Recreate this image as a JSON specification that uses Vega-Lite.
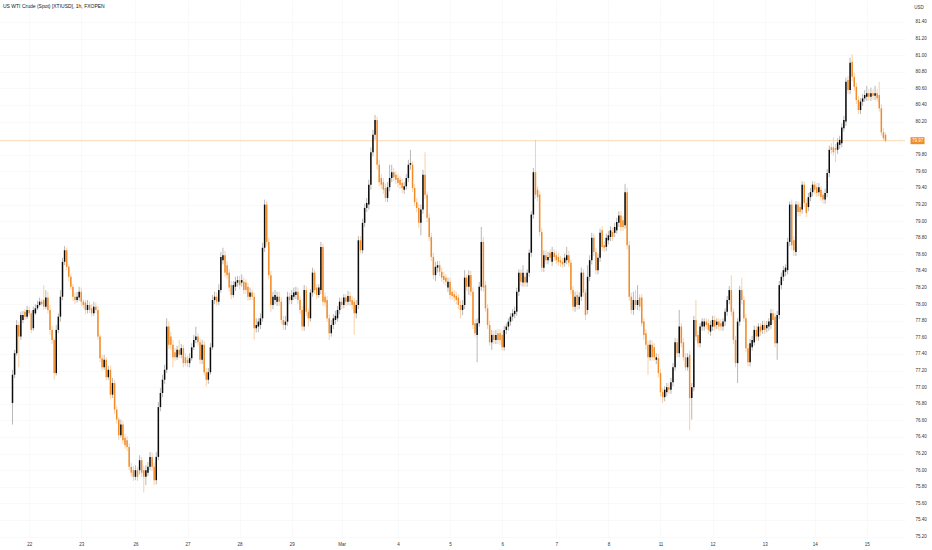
{
"$schema":"https://vega.github.io/schema/vega-lite/v6.json",
"width":905,"height":538,
"autosize":{"type":"none"},
"padding":{"left":0,"top":0,"right":27,"bottom":12},
"background":"#ffffff",
"config":{"view":{"stroke":null},"font":"Liberation Sans"},
"title":{"text":"US WTI Crude (Spot) [XTIUSD], 1h, FXOPEN","anchor":"start","frame":"group","fontSize":5,"fontWeight":"normal","color":"#131722","offset":-9,"dx":3},
"datasets":{"candles":[
{"i":0,"o":76.81,"h":77.21,"l":76.55,"c":77.15},{"i":1,"o":77.15,"h":77.45,"l":77.11,"c":77.41},{"i":2,"o":77.41,"h":77.81,"l":77.38,"c":77.75},{"i":3,"o":77.75,"h":77.79,"l":77.24,"c":77.61},{"i":4,"o":77.61,"h":77.91,"l":77.57,"c":77.87},{"i":5,"o":77.81,"h":77.92,"l":77.77,"c":77.87},{"i":6,"o":77.91,"h":77.94,"l":77.81,"c":77.85},{"i":7,"o":77.85,"h":77.98,"l":77.82,"c":77.93},{"i":8,"o":77.93,"h":77.97,"l":77.86,"c":77.89},{"i":9,"o":77.89,"h":77.92,"l":77.65,"c":77.69},
{"i":10,"o":77.71,"h":77.97,"l":77.68,"c":77.93},{"i":11,"o":77.89,"h":78.00,"l":77.87,"c":77.95},{"i":12,"o":77.95,"h":78.04,"l":77.93,"c":77.99},{"i":13,"o":77.99,"h":78.08,"l":77.97,"c":78.03},{"i":14,"o":78.03,"h":78.06,"l":77.98,"c":78.00},{"i":15,"o":78.05,"h":78.23,"l":77.93,"c":77.97},{"i":16,"o":77.97,"h":78.17,"l":77.94,"c":78.08},{"i":17,"o":78.08,"h":78.15,"l":77.89,"c":77.93},{"i":18,"o":77.93,"h":77.99,"l":77.63,"c":77.69},{"i":19,"o":77.69,"h":77.74,"l":77.52,"c":77.57},
{"i":20,"o":77.57,"h":77.59,"l":77.09,"c":77.17},{"i":21,"o":77.17,"h":77.75,"l":77.14,"c":77.69},{"i":22,"o":77.69,"h":77.89,"l":77.65,"c":77.85},{"i":23,"o":77.85,"h":78.17,"l":77.79,"c":78.09},{"i":24,"o":78.09,"h":78.56,"l":78.05,"c":78.51},{"i":25,"o":78.51,"h":78.70,"l":78.47,"c":78.65},{"i":26,"o":78.65,"h":78.68,"l":78.41,"c":78.45},{"i":27,"o":78.45,"h":78.48,"l":78.28,"c":78.33},{"i":28,"o":78.33,"h":78.36,"l":78.17,"c":78.21},{"i":29,"o":78.21,"h":78.24,"l":78.04,"c":78.09},
{"i":30,"o":78.09,"h":78.14,"l":78.00,"c":78.05},{"i":31,"o":78.05,"h":78.15,"l":78.02,"c":78.09},{"i":32,"o":78.08,"h":78.21,"l":78.04,"c":78.15},{"i":33,"o":78.15,"h":78.20,"l":77.98,"c":78.03},{"i":34,"o":78.03,"h":78.06,"l":77.95,"c":77.99},{"i":35,"o":78.02,"h":78.05,"l":77.88,"c":77.93},{"i":36,"o":77.93,"h":78.05,"l":77.89,"c":77.99},{"i":37,"o":77.99,"h":78.03,"l":77.89,"c":77.93},{"i":38,"o":77.95,"h":78.00,"l":77.85,"c":77.89},{"i":39,"o":77.89,"h":78.03,"l":77.86,"c":77.97},
{"i":40,"o":77.97,"h":78.02,"l":77.89,"c":77.93},{"i":41,"o":77.93,"h":77.98,"l":77.57,"c":77.61},{"i":42,"o":77.61,"h":77.64,"l":77.30,"c":77.35},{"i":43,"o":77.35,"h":77.39,"l":77.20,"c":77.24},{"i":44,"o":77.24,"h":77.39,"l":77.21,"c":77.33},{"i":45,"o":77.33,"h":77.36,"l":77.08,"c":77.12},{"i":46,"o":77.12,"h":77.26,"l":77.09,"c":77.21},{"i":47,"o":77.21,"h":77.26,"l":76.86,"c":76.91},{"i":48,"o":76.91,"h":77.11,"l":76.87,"c":77.05},{"i":49,"o":77.05,"h":77.09,"l":76.68,"c":76.73},
{"i":50,"o":76.73,"h":76.77,"l":76.56,"c":76.61},{"i":51,"o":76.61,"h":76.64,"l":76.36,"c":76.42},{"i":52,"o":76.42,"h":76.61,"l":76.39,"c":76.55},{"i":53,"o":76.55,"h":76.59,"l":76.32,"c":76.36},{"i":54,"o":76.39,"h":76.44,"l":76.26,"c":76.30},{"i":55,"o":76.36,"h":76.41,"l":76.23,"c":76.28},{"i":56,"o":76.28,"h":76.32,"l":76.00,"c":76.04},{"i":57,"o":76.04,"h":76.09,"l":75.92,"c":75.97},{"i":58,"o":76.00,"h":76.05,"l":75.87,"c":75.92},{"i":59,"o":75.92,"h":76.06,"l":75.88,"c":76.00},
{"i":60,"o":76.00,"h":76.04,"l":75.87,"c":75.92},{"i":61,"o":76.00,"h":76.18,"l":75.95,"c":76.12},{"i":62,"o":76.12,"h":76.16,"l":75.92,"c":75.97},{"i":63,"o":76.00,"h":76.05,"l":75.73,"c":75.92},{"i":64,"o":75.92,"h":76.06,"l":75.82,"c":76.00},{"i":65,"o":75.97,"h":76.10,"l":75.93,"c":76.04},{"i":66,"o":76.04,"h":76.22,"l":76.00,"c":76.16},{"i":67,"o":76.16,"h":76.21,"l":75.99,"c":76.04},{"i":68,"o":76.04,"h":76.09,"l":75.82,"c":75.88},{"i":69,"o":75.88,"h":76.22,"l":75.83,"c":76.16},
{"i":70,"o":76.16,"h":76.82,"l":76.12,"c":76.76},{"i":71,"o":76.76,"h":76.99,"l":76.71,"c":76.93},{"i":72,"o":76.93,"h":77.15,"l":76.88,"c":77.09},{"i":73,"o":77.09,"h":77.27,"l":77.04,"c":77.21},{"i":74,"o":77.21,"h":77.83,"l":77.17,"c":77.73},{"i":75,"o":77.73,"h":77.79,"l":77.46,"c":77.51},{"i":76,"o":77.61,"h":77.67,"l":77.45,"c":77.51},{"i":77,"o":77.51,"h":77.57,"l":77.24,"c":77.36},{"i":78,"o":77.42,"h":77.47,"l":77.32,"c":77.36},{"i":79,"o":77.36,"h":77.50,"l":77.33,"c":77.45},
{"i":80,"o":77.45,"h":77.57,"l":77.35,"c":77.39},{"i":81,"o":77.39,"h":77.52,"l":77.35,"c":77.47},{"i":82,"o":77.47,"h":77.51,"l":77.24,"c":77.29},{"i":83,"o":77.36,"h":77.41,"l":77.26,"c":77.29},{"i":84,"o":77.33,"h":77.38,"l":77.24,"c":77.29},{"i":85,"o":77.29,"h":77.41,"l":77.24,"c":77.35},{"i":86,"o":77.35,"h":77.53,"l":77.32,"c":77.48},{"i":87,"o":77.48,"h":77.63,"l":77.45,"c":77.57},{"i":88,"o":77.57,"h":77.73,"l":77.53,"c":77.61},{"i":89,"o":77.61,"h":77.65,"l":77.50,"c":77.54},
{"i":90,"o":77.54,"h":77.59,"l":77.28,"c":77.33},{"i":91,"o":77.33,"h":77.57,"l":77.28,"c":77.51},{"i":92,"o":77.51,"h":77.56,"l":77.14,"c":77.18},{"i":93,"o":77.18,"h":77.23,"l":77.01,"c":77.09},{"i":94,"o":77.09,"h":77.23,"l":77.04,"c":77.18},{"i":95,"o":77.18,"h":77.53,"l":77.15,"c":77.48},{"i":96,"o":77.48,"h":78.11,"l":77.45,"c":78.05},{"i":97,"o":78.05,"h":78.15,"l":78.00,"c":78.09},{"i":98,"o":78.09,"h":78.14,"l":77.98,"c":78.03},{"i":99,"o":78.03,"h":78.24,"l":77.99,"c":78.17},
{"i":100,"o":78.17,"h":78.63,"l":78.14,"c":78.57},{"i":101,"o":78.53,"h":78.68,"l":78.48,"c":78.59},{"i":102,"o":78.59,"h":78.64,"l":78.33,"c":78.38},{"i":103,"o":78.47,"h":78.52,"l":78.30,"c":78.35},{"i":104,"o":78.38,"h":78.42,"l":78.15,"c":78.20},{"i":105,"o":78.23,"h":78.28,"l":78.06,"c":78.11},{"i":106,"o":78.11,"h":78.28,"l":78.08,"c":78.23},{"i":107,"o":78.21,"h":78.33,"l":78.16,"c":78.27},{"i":108,"o":78.26,"h":78.34,"l":78.21,"c":78.29},{"i":109,"o":78.29,"h":78.34,"l":78.18,"c":78.23},
{"i":110,"o":78.26,"h":78.36,"l":78.21,"c":78.29},{"i":111,"o":78.27,"h":78.32,"l":78.12,"c":78.17},{"i":112,"o":78.26,"h":78.30,"l":78.12,"c":78.17},{"i":113,"o":78.21,"h":78.26,"l":78.04,"c":78.09},{"i":114,"o":78.09,"h":78.20,"l":78.05,"c":78.14},{"i":115,"o":78.14,"h":78.18,"l":78.05,"c":78.09},{"i":116,"o":78.09,"h":78.14,"l":77.57,"c":77.71},{"i":117,"o":77.71,"h":77.83,"l":77.66,"c":77.75},{"i":118,"o":77.73,"h":77.83,"l":77.66,"c":77.79},{"i":119,"o":77.75,"h":77.89,"l":77.70,"c":77.83},
{"i":120,"o":77.83,"h":78.74,"l":77.79,"c":78.68},{"i":121,"o":78.68,"h":79.26,"l":78.63,"c":79.20},{"i":122,"o":79.20,"h":79.24,"l":78.70,"c":78.75},{"i":123,"o":78.75,"h":78.80,"l":78.30,"c":78.35},{"i":124,"o":78.35,"h":78.40,"l":77.91,"c":77.99},{"i":125,"o":77.99,"h":78.15,"l":77.94,"c":78.09},{"i":126,"o":78.05,"h":78.17,"l":78.00,"c":78.11},{"i":127,"o":78.03,"h":78.15,"l":77.98,"c":78.09},{"i":128,"o":78.09,"h":78.15,"l":77.98,"c":78.03},{"i":129,"o":78.03,"h":78.08,"l":77.76,"c":77.81},
{"i":130,"o":77.81,"h":77.86,"l":77.69,"c":77.75},{"i":131,"o":77.75,"h":77.86,"l":77.69,"c":77.79},{"i":132,"o":77.79,"h":78.15,"l":77.74,"c":78.09},{"i":133,"o":78.09,"h":78.14,"l":78.00,"c":78.05},{"i":134,"o":78.05,"h":78.17,"l":78.00,"c":78.11},{"i":135,"o":78.09,"h":78.20,"l":78.05,"c":78.14},{"i":136,"o":78.11,"h":78.21,"l":78.06,"c":78.15},{"i":137,"o":78.15,"h":78.20,"l":78.00,"c":78.05},{"i":138,"o":78.05,"h":78.10,"l":77.88,"c":77.93},{"i":139,"o":77.93,"h":77.98,"l":77.68,"c":77.73},
{"i":140,"o":77.73,"h":78.23,"l":77.68,"c":78.17},{"i":141,"o":78.17,"h":78.22,"l":77.86,"c":77.91},{"i":142,"o":77.91,"h":77.95,"l":77.73,"c":77.83},{"i":143,"o":77.83,"h":78.18,"l":77.79,"c":78.14},{"i":144,"o":78.14,"h":78.44,"l":78.09,"c":78.38},{"i":145,"o":78.38,"h":78.42,"l":78.12,"c":78.17},{"i":146,"o":78.20,"h":78.24,"l":78.06,"c":78.11},{"i":147,"o":78.11,"h":78.24,"l":78.08,"c":78.20},{"i":148,"o":78.17,"h":78.75,"l":78.12,"c":78.69},{"i":149,"o":78.69,"h":78.73,"l":77.98,"c":78.03},
{"i":150,"o":78.09,"h":78.14,"l":77.97,"c":78.02},{"i":151,"o":78.05,"h":78.10,"l":77.79,"c":77.83},{"i":152,"o":77.83,"h":77.88,"l":77.57,"c":77.65},{"i":153,"o":77.65,"h":77.81,"l":77.61,"c":77.75},{"i":154,"o":77.75,"h":77.88,"l":77.70,"c":77.83},{"i":155,"o":77.81,"h":77.92,"l":77.76,"c":77.86},{"i":156,"o":77.83,"h":77.98,"l":77.79,"c":77.93},{"i":157,"o":77.93,"h":78.08,"l":77.88,"c":78.03},{"i":158,"o":78.03,"h":78.08,"l":77.94,"c":77.99},{"i":159,"o":77.99,"h":78.12,"l":77.95,"c":78.08},
{"i":160,"o":78.08,"h":78.12,"l":77.98,"c":78.03},{"i":161,"o":78.03,"h":78.16,"l":77.99,"c":78.10},{"i":162,"o":78.10,"h":78.15,"l":77.98,"c":78.03},{"i":163,"o":78.05,"h":78.10,"l":77.94,"c":77.99},{"i":164,"o":78.03,"h":78.08,"l":77.63,"c":77.89},{"i":165,"o":77.89,"h":78.05,"l":77.83,"c":77.99},{"i":166,"o":77.99,"h":78.82,"l":77.94,"c":78.77},{"i":167,"o":78.77,"h":78.82,"l":78.61,"c":78.65},{"i":168,"o":78.65,"h":79.03,"l":78.61,"c":78.98},{"i":169,"o":78.98,"h":79.21,"l":78.93,"c":79.16},
{"i":170,"o":79.16,"h":79.28,"l":79.11,"c":79.22},{"i":171,"o":79.20,"h":79.50,"l":79.14,"c":79.44},{"i":172,"o":79.44,"h":79.89,"l":79.38,"c":79.83},{"i":173,"o":79.83,"h":80.10,"l":79.78,"c":80.04},{"i":174,"o":80.04,"h":80.28,"l":79.98,"c":80.22},{"i":175,"o":80.22,"h":80.26,"l":79.62,"c":79.68},{"i":176,"o":79.68,"h":79.74,"l":79.42,"c":79.47},{"i":177,"o":79.52,"h":79.57,"l":79.39,"c":79.44},{"i":178,"o":79.47,"h":79.52,"l":79.33,"c":79.38},{"i":179,"o":79.40,"h":79.45,"l":79.23,"c":79.28},
{"i":180,"o":79.28,"h":79.47,"l":79.23,"c":79.41},{"i":181,"o":79.41,"h":79.68,"l":79.36,"c":79.52},{"i":182,"o":79.52,"h":79.68,"l":79.47,"c":79.59},{"i":183,"o":79.59,"h":79.64,"l":79.48,"c":79.53},{"i":184,"o":79.56,"h":79.60,"l":79.45,"c":79.50},{"i":185,"o":79.52,"h":79.57,"l":79.41,"c":79.46},{"i":186,"o":79.50,"h":79.54,"l":79.39,"c":79.44},{"i":187,"o":79.46,"h":79.51,"l":79.34,"c":79.40},{"i":188,"o":79.38,"h":79.47,"l":79.33,"c":79.42},{"i":189,"o":79.42,"h":79.57,"l":79.38,"c":79.52},
{"i":190,"o":79.52,"h":79.74,"l":79.47,"c":79.68},{"i":191,"o":79.68,"h":79.86,"l":79.62,"c":79.70},{"i":192,"o":79.68,"h":79.72,"l":79.35,"c":79.40},{"i":193,"o":79.40,"h":79.45,"l":79.18,"c":79.23},{"i":194,"o":79.23,"h":79.28,"l":79.11,"c":79.16},{"i":195,"o":79.16,"h":79.21,"l":78.92,"c":78.98},{"i":196,"o":78.98,"h":79.20,"l":78.83,"c":79.14},{"i":197,"o":79.14,"h":79.62,"l":79.09,"c":79.56},{"i":198,"o":79.56,"h":79.83,"l":79.27,"c":79.32},{"i":199,"o":79.32,"h":79.36,"l":78.99,"c":79.04},
{"i":200,"o":79.04,"h":79.09,"l":78.76,"c":78.81},{"i":201,"o":78.81,"h":78.86,"l":78.52,"c":78.57},{"i":202,"o":78.57,"h":78.62,"l":78.30,"c":78.35},{"i":203,"o":78.35,"h":78.51,"l":78.28,"c":78.45},{"i":204,"o":78.44,"h":78.52,"l":78.38,"c":78.47},{"i":205,"o":78.47,"h":78.52,"l":78.34,"c":78.39},{"i":206,"o":78.39,"h":78.44,"l":78.27,"c":78.32},{"i":207,"o":78.34,"h":78.39,"l":78.24,"c":78.29},{"i":208,"o":78.32,"h":78.36,"l":78.22,"c":78.27},{"i":209,"o":78.20,"h":78.32,"l":78.15,"c":78.27},
{"i":210,"o":78.27,"h":78.32,"l":78.06,"c":78.11},{"i":211,"o":78.15,"h":78.20,"l":78.05,"c":78.10},{"i":212,"o":78.12,"h":78.17,"l":78.03,"c":78.08},{"i":213,"o":78.10,"h":78.15,"l":78.00,"c":78.05},{"i":214,"o":78.08,"h":78.12,"l":77.94,"c":77.99},{"i":215,"o":77.99,"h":78.04,"l":77.83,"c":77.93},{"i":216,"o":77.93,"h":78.05,"l":77.87,"c":77.99},{"i":217,"o":77.99,"h":78.41,"l":77.94,"c":78.32},{"i":218,"o":78.32,"h":78.36,"l":78.16,"c":78.21},{"i":219,"o":78.21,"h":78.41,"l":78.11,"c":78.35},
{"i":220,"o":78.35,"h":78.40,"l":78.10,"c":78.15},{"i":221,"o":78.15,"h":78.20,"l":77.70,"c":77.75},{"i":222,"o":77.77,"h":77.82,"l":77.61,"c":77.65},{"i":223,"o":77.63,"h":77.83,"l":77.30,"c":77.77},{"i":224,"o":77.77,"h":78.27,"l":77.73,"c":78.21},{"i":225,"o":78.21,"h":78.93,"l":78.16,"c":78.75},{"i":226,"o":78.75,"h":78.81,"l":78.15,"c":78.20},{"i":227,"o":78.23,"h":78.28,"l":77.91,"c":77.95},{"i":228,"o":77.95,"h":78.00,"l":77.70,"c":77.75},{"i":229,"o":77.75,"h":77.80,"l":77.50,"c":77.54},
{"i":230,"o":77.54,"h":77.69,"l":77.45,"c":77.63},{"i":231,"o":77.63,"h":77.68,"l":77.52,"c":77.57},{"i":232,"o":77.57,"h":77.69,"l":77.52,"c":77.63},{"i":233,"o":77.65,"h":77.70,"l":77.52,"c":77.57},{"i":234,"o":77.65,"h":77.70,"l":77.51,"c":77.57},{"i":235,"o":77.63,"h":77.68,"l":77.44,"c":77.48},{"i":236,"o":77.48,"h":77.74,"l":77.44,"c":77.69},{"i":237,"o":77.69,"h":77.77,"l":77.64,"c":77.73},{"i":238,"o":77.73,"h":77.83,"l":77.68,"c":77.79},{"i":239,"o":77.79,"h":77.89,"l":77.74,"c":77.85},
{"i":240,"o":77.85,"h":77.94,"l":77.80,"c":77.89},{"i":241,"o":77.88,"h":77.97,"l":77.83,"c":77.92},{"i":242,"o":77.91,"h":78.20,"l":77.86,"c":78.15},{"i":243,"o":78.15,"h":78.42,"l":78.10,"c":78.38},{"i":244,"o":78.38,"h":78.42,"l":78.22,"c":78.27},{"i":245,"o":78.26,"h":78.47,"l":78.21,"c":78.38},{"i":246,"o":78.33,"h":78.38,"l":78.21,"c":78.26},{"i":247,"o":78.26,"h":78.42,"l":78.21,"c":78.38},{"i":248,"o":78.38,"h":78.66,"l":78.33,"c":78.62},{"i":249,"o":78.62,"h":79.12,"l":78.57,"c":79.08},
{"i":250,"o":79.08,"h":79.64,"l":79.03,"c":79.59},{"i":251,"o":79.59,"h":79.98,"l":79.27,"c":79.32},{"i":252,"o":79.38,"h":79.42,"l":79.24,"c":79.29},{"i":253,"o":79.32,"h":79.36,"l":78.82,"c":78.87},{"i":254,"o":78.87,"h":78.92,"l":78.39,"c":78.44},{"i":255,"o":78.44,"h":78.65,"l":78.39,"c":78.59},{"i":256,"o":78.59,"h":78.65,"l":78.48,"c":78.53},{"i":257,"o":78.53,"h":78.63,"l":78.48,"c":78.57},{"i":258,"o":78.62,"h":78.66,"l":78.51,"c":78.56},{"i":259,"o":78.51,"h":78.69,"l":78.46,"c":78.63},
{"i":260,"o":78.62,"h":78.66,"l":78.52,"c":78.57},{"i":261,"o":78.59,"h":78.64,"l":78.48,"c":78.53},{"i":262,"o":78.57,"h":78.62,"l":78.46,"c":78.51},{"i":263,"o":78.53,"h":78.58,"l":78.45,"c":78.50},{"i":264,"o":78.51,"h":78.56,"l":78.44,"c":78.48},{"i":265,"o":78.50,"h":78.61,"l":78.45,"c":78.56},{"i":266,"o":78.53,"h":78.69,"l":78.48,"c":78.59},{"i":267,"o":78.59,"h":78.64,"l":78.45,"c":78.50},{"i":268,"o":78.50,"h":78.54,"l":78.12,"c":78.17},{"i":269,"o":78.17,"h":78.22,"l":77.92,"c":77.97},
{"i":270,"o":77.97,"h":78.15,"l":77.91,"c":78.09},{"i":271,"o":78.11,"h":78.16,"l":77.93,"c":77.99},{"i":272,"o":77.99,"h":78.14,"l":77.94,"c":78.09},{"i":273,"o":78.09,"h":78.44,"l":78.04,"c":78.38},{"i":274,"o":78.38,"h":78.42,"l":78.09,"c":78.14},{"i":275,"o":78.14,"h":78.18,"l":77.81,"c":77.87},{"i":276,"o":77.93,"h":78.47,"l":77.88,"c":78.33},{"i":277,"o":78.33,"h":78.59,"l":78.28,"c":78.53},{"i":278,"o":78.53,"h":78.86,"l":78.48,"c":78.80},{"i":279,"o":78.80,"h":78.85,"l":78.58,"c":78.63},
{"i":280,"o":78.63,"h":78.68,"l":78.36,"c":78.41},{"i":281,"o":78.41,"h":78.61,"l":78.36,"c":78.56},{"i":282,"o":78.56,"h":78.91,"l":78.51,"c":78.86},{"i":283,"o":78.89,"h":78.94,"l":78.64,"c":78.69},{"i":284,"o":78.71,"h":78.76,"l":78.63,"c":78.68},{"i":285,"o":78.69,"h":78.85,"l":78.64,"c":78.80},{"i":286,"o":78.77,"h":78.88,"l":78.72,"c":78.83},{"i":287,"o":78.81,"h":78.94,"l":78.76,"c":78.89},{"i":288,"o":78.87,"h":78.92,"l":78.76,"c":78.81},{"i":289,"o":78.86,"h":78.98,"l":78.81,"c":78.93},
{"i":290,"o":78.89,"h":79.04,"l":78.85,"c":78.99},{"i":291,"o":78.98,"h":79.12,"l":78.93,"c":79.07},{"i":292,"o":79.07,"h":79.12,"l":78.88,"c":78.93},{"i":293,"o":79.01,"h":79.06,"l":78.88,"c":78.93},{"i":294,"o":78.95,"h":79.45,"l":78.91,"c":79.35},{"i":295,"o":79.35,"h":79.40,"l":78.66,"c":78.71},{"i":296,"o":78.71,"h":78.76,"l":78.04,"c":78.09},{"i":297,"o":78.09,"h":78.14,"l":77.88,"c":77.93},{"i":298,"o":77.93,"h":78.15,"l":77.87,"c":78.05},{"i":299,"o":78.05,"h":78.17,"l":77.94,"c":77.99},
{"i":300,"o":77.99,"h":78.23,"l":77.93,"c":78.05},{"i":301,"o":78.08,"h":78.12,"l":77.92,"c":77.97},{"i":302,"o":78.08,"h":78.12,"l":77.73,"c":77.77},{"i":303,"o":77.79,"h":77.83,"l":77.57,"c":77.63},{"i":304,"o":77.65,"h":77.70,"l":77.45,"c":77.51},{"i":305,"o":77.51,"h":77.56,"l":77.15,"c":77.36},{"i":306,"o":77.36,"h":77.57,"l":77.32,"c":77.51},{"i":307,"o":77.51,"h":77.56,"l":77.32,"c":77.36},{"i":308,"o":77.48,"h":77.53,"l":77.32,"c":77.36},{"i":309,"o":77.33,"h":77.41,"l":77.28,"c":77.36},
{"i":310,"o":77.35,"h":77.40,"l":77.12,"c":77.17},{"i":311,"o":77.17,"h":77.22,"l":76.89,"c":76.94},{"i":312,"o":76.94,"h":76.99,"l":76.81,"c":76.88},{"i":313,"o":76.88,"h":77.01,"l":76.83,"c":76.97},{"i":314,"o":76.94,"h":77.05,"l":76.89,"c":77.00},{"i":315,"o":77.00,"h":77.05,"l":76.92,"c":76.97},{"i":316,"o":76.97,"h":77.11,"l":76.92,"c":77.06},{"i":317,"o":77.06,"h":77.29,"l":77.01,"c":77.24},{"i":318,"o":77.24,"h":77.59,"l":77.20,"c":77.54},{"i":319,"o":77.54,"h":77.59,"l":77.36,"c":77.41},
{"i":320,"o":77.41,"h":77.93,"l":77.36,"c":77.73},{"i":321,"o":77.73,"h":77.77,"l":77.48,"c":77.53},{"i":322,"o":77.54,"h":77.59,"l":77.32,"c":77.36},{"i":323,"o":77.36,"h":77.41,"l":77.20,"c":77.24},{"i":324,"o":77.24,"h":77.41,"l":77.20,"c":77.36},{"i":325,"o":77.39,"h":77.44,"l":76.48,"c":76.87},{"i":326,"o":76.87,"h":77.05,"l":76.61,"c":77.00},{"i":327,"o":77.00,"h":77.86,"l":76.95,"c":77.81},{"i":328,"o":77.81,"h":78.05,"l":77.56,"c":77.61},{"i":329,"o":77.63,"h":77.68,"l":77.48,"c":77.53},
{"i":330,"o":77.53,"h":77.77,"l":77.48,"c":77.73},{"i":331,"o":77.73,"h":77.83,"l":77.68,"c":77.79},{"i":332,"o":77.73,"h":77.83,"l":77.68,"c":77.79},{"i":333,"o":77.79,"h":77.83,"l":77.70,"c":77.75},{"i":334,"o":77.77,"h":77.82,"l":77.64,"c":77.69},{"i":335,"o":77.67,"h":77.80,"l":77.62,"c":77.75},{"i":336,"o":77.73,"h":77.86,"l":77.68,"c":77.81},{"i":337,"o":77.81,"h":77.86,"l":77.68,"c":77.73},{"i":338,"o":77.75,"h":77.83,"l":77.70,"c":77.79},{"i":339,"o":77.79,"h":77.83,"l":77.68,"c":77.73},
{"i":340,"o":77.77,"h":77.82,"l":77.68,"c":77.73},{"i":341,"o":77.73,"h":77.83,"l":77.68,"c":77.79},{"i":342,"o":77.79,"h":77.95,"l":77.74,"c":77.91},{"i":343,"o":77.91,"h":78.10,"l":77.86,"c":78.05},{"i":344,"o":78.05,"h":78.22,"l":78.00,"c":78.17},{"i":345,"o":78.17,"h":78.35,"l":77.86,"c":77.91},{"i":346,"o":77.91,"h":77.95,"l":77.52,"c":77.57},{"i":347,"o":77.57,"h":77.62,"l":77.24,"c":77.29},{"i":348,"o":77.29,"h":77.83,"l":77.05,"c":77.79},{"i":349,"o":77.79,"h":78.22,"l":77.74,"c":78.17},
{"i":350,"o":78.17,"h":78.32,"l":78.00,"c":78.05},{"i":351,"o":78.05,"h":78.10,"l":77.79,"c":77.83},{"i":352,"o":77.83,"h":77.88,"l":77.42,"c":77.47},{"i":353,"o":77.47,"h":77.52,"l":77.25,"c":77.30},{"i":354,"o":77.30,"h":77.58,"l":77.25,"c":77.53},{"i":355,"o":77.48,"h":77.62,"l":77.44,"c":77.57},{"i":356,"o":77.54,"h":77.74,"l":77.50,"c":77.69},{"i":357,"o":77.69,"h":77.74,"l":77.56,"c":77.61},{"i":358,"o":77.61,"h":77.77,"l":77.56,"c":77.73},{"i":359,"o":77.73,"h":77.77,"l":77.62,"c":77.67},
{"i":360,"o":77.69,"h":77.80,"l":77.64,"c":77.75},{"i":361,"o":77.75,"h":77.80,"l":77.64,"c":77.69},{"i":362,"o":77.71,"h":77.80,"l":77.66,"c":77.75},{"i":363,"o":77.73,"h":77.83,"l":77.68,"c":77.79},{"i":364,"o":77.75,"h":77.94,"l":77.70,"c":77.89},{"i":365,"o":77.89,"h":77.94,"l":77.76,"c":77.81},{"i":366,"o":77.85,"h":77.89,"l":77.48,"c":77.53},{"i":367,"o":77.53,"h":77.92,"l":77.33,"c":77.87},{"i":368,"o":77.87,"h":78.28,"l":77.82,"c":78.23},{"i":369,"o":78.23,"h":78.38,"l":78.18,"c":78.33},
{"i":370,"o":78.33,"h":78.46,"l":78.28,"c":78.41},{"i":371,"o":78.39,"h":78.48,"l":78.34,"c":78.44},{"i":372,"o":78.41,"h":78.80,"l":78.36,"c":78.75},{"i":373,"o":78.75,"h":79.24,"l":78.70,"c":79.20},{"i":374,"o":79.20,"h":79.26,"l":78.65,"c":78.71},{"i":375,"o":78.77,"h":78.82,"l":78.58,"c":78.65},{"i":376,"o":78.63,"h":79.24,"l":78.58,"c":79.20},{"i":377,"o":79.20,"h":79.24,"l":79.06,"c":79.11},{"i":378,"o":79.17,"h":79.22,"l":79.06,"c":79.11},{"i":379,"o":79.14,"h":79.48,"l":79.09,"c":79.44},
{"i":380,"o":79.44,"h":79.48,"l":79.17,"c":79.22},{"i":381,"o":79.22,"h":79.27,"l":79.05,"c":79.10},{"i":382,"o":79.17,"h":79.34,"l":79.12,"c":79.29},{"i":383,"o":79.29,"h":79.40,"l":79.24,"c":79.35},{"i":384,"o":79.35,"h":79.48,"l":79.30,"c":79.44},{"i":385,"o":79.44,"h":79.48,"l":79.33,"c":79.38},{"i":386,"o":79.41,"h":79.46,"l":79.29,"c":79.34},{"i":387,"o":79.35,"h":79.46,"l":79.30,"c":79.41},{"i":388,"o":79.38,"h":79.42,"l":79.24,"c":79.29},{"i":389,"o":79.32,"h":79.36,"l":79.21,"c":79.26},
{"i":390,"o":79.26,"h":79.39,"l":79.21,"c":79.34},{"i":391,"o":79.34,"h":79.63,"l":79.29,"c":79.58},{"i":392,"o":79.58,"h":79.91,"l":79.53,"c":79.86},{"i":393,"o":79.89,"h":79.94,"l":79.81,"c":79.86},{"i":394,"o":79.89,"h":80.01,"l":79.79,"c":79.83},{"i":395,"o":79.88,"h":79.93,"l":79.71,"c":79.86},{"i":396,"o":79.86,"h":80.00,"l":79.81,"c":79.95},{"i":397,"o":79.92,"h":80.03,"l":79.87,"c":79.98},{"i":398,"o":79.94,"h":80.18,"l":79.89,"c":80.13},{"i":399,"o":80.12,"h":80.27,"l":80.08,"c":80.22},
{"i":400,"o":80.20,"h":80.73,"l":80.15,"c":80.68},{"i":401,"o":80.70,"h":80.75,"l":80.53,"c":80.58},{"i":402,"o":80.58,"h":80.97,"l":80.53,"c":80.91},{"i":403,"o":80.92,"h":81.01,"l":80.69,"c":80.74},{"i":404,"o":80.74,"h":80.79,"l":80.57,"c":80.62},{"i":405,"o":80.62,"h":80.67,"l":80.41,"c":80.46},{"i":406,"o":80.46,"h":80.51,"l":80.29,"c":80.34},{"i":407,"o":80.34,"h":80.48,"l":80.29,"c":80.44},{"i":408,"o":80.44,"h":80.53,"l":80.39,"c":80.48},{"i":409,"o":80.48,"h":80.58,"l":80.44,"c":80.52},
{"i":410,"o":80.50,"h":80.63,"l":80.45,"c":80.54},{"i":411,"o":80.54,"h":80.59,"l":80.45,"c":80.50},{"i":412,"o":80.50,"h":80.61,"l":80.45,"c":80.54},{"i":413,"o":80.54,"h":80.59,"l":80.46,"c":80.51},{"i":414,"o":80.51,"h":80.63,"l":80.46,"c":80.54},{"i":415,"o":80.54,"h":80.59,"l":80.44,"c":80.48},{"i":416,"o":80.52,"h":80.68,"l":80.32,"c":80.36},{"i":417,"o":80.36,"h":80.41,"l":80.03,"c":80.07},{"i":418,"o":80.07,"h":80.12,"l":79.97,"c":80.00},{"i":419,"o":80.04,"h":80.07,"l":79.95,"c":79.97}
]},
"data":{"name":"candles"},
"layer":[
{"mark":{"type":"rule","strokeWidth":0.7},
 "encoding":{
  "x":{"field":"i","type":"quantitative","scale":{"domain":[-3.6,425.95],"nice":false,"zero":false},
   "axis":{"values":[8,33,59,84,109,134,158,185,210,235,261,286,311,336,361,385,410],"tickCount":60,
    "labelExpr":"['22','23','26','27','28','29','Mar','4','5','6','7','8','11','12','13','14','15'][indexof([8,33,59,84,109,134,158,185,210,235,261,286,311,336,361,385,410], datum.value)]",
    "labelOverlap":false,"grid":true,"gridColor":"#f8f9fb","gridWidth":1,"domain":false,"ticks":false,"labelPadding":3.5,"labelFontSize":4.5,"labelColor":"#333333","labelFont":"Liberation Sans","title":null}},
  "y":{"field":"l","type":"quantitative","scale":{"domain":[75.183,81.665],"nice":false,"zero":false},
   "axis":{"orient":"right","values":[75.2,75.4,75.6,75.8,76.0,76.2,76.4,76.6,76.8,77.0,77.2,77.4,77.6,77.8,78.0,78.2,78.4,78.6,78.8,79.0,79.2,79.4,79.6,79.8,80.2,80.4,80.6,80.8,81.0,81.2,81.4],"tickCount":60,
    "format":".2f","labelOverlap":false,"labelBound":false,"grid":true,"gridColor":"#f8f9fb","gridWidth":1,"domain":false,"ticks":false,"labelPadding":10,"labelFontSize":4.5,"labelColor":"#333333","labelFont":"Liberation Sans",
    "title":"USD","titleAngle":0,"titleX":13.5,"titleY":7,"titleFontSize":4.5,"titleFontWeight":"normal","titleColor":"#333333","titleFont":"Liberation Sans","titleAlign":"center","titleBaseline":"middle"}},
  "y2":{"field":"h"},
  "color":{"condition":{"test":"datum.c >= datum.o","value":"#9a9a9a"},"value":"#f6bd84"}}},
{"transform":[{"filter":"datum.i == 419"}],
 "mark":{"type":"rule","color":"#f7c795","strokeWidth":0.7},
 "encoding":{"y":{"field":"c","type":"quantitative"}}},
{"mark":{"type":"bar","width":1.5},
 "encoding":{
  "x":{"field":"i","type":"quantitative"},
  "y":{"field":"o","type":"quantitative"},
  "y2":{"field":"c"},
  "color":{"condition":{"test":"datum.c >= datum.o","value":"#0b0b0b"},"value":"#f28c28"}}},
{"transform":[{"filter":"datum.i == 419"}],
 "mark":{"type":"rect","color":"#f28c28","xOffset":25,"x2Offset":39,"yOffset":-3.5,"y2Offset":3.5},
 "encoding":{"x":{"field":"i","type":"quantitative"},"x2":{"field":"i"},
  "y":{"field":"c","type":"quantitative"},"y2":{"field":"c"}}},
{"transform":[{"filter":"datum.i == 419"}],
 "mark":{"type":"text","color":"#ffffff","fontSize":4.5,"font":"Liberation Sans","align":"center","baseline":"middle","dx":32},
 "encoding":{"x":{"field":"i","type":"quantitative"},
  "y":{"field":"c","type":"quantitative"},
  "text":{"field":"c","type":"quantitative","format":".2f"}}}
]
}
